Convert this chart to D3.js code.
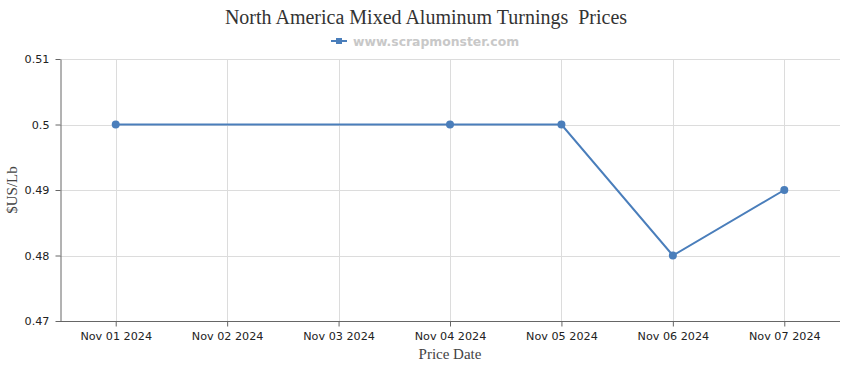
<!DOCTYPE html>
<html>
<head>
<meta charset="utf-8">
<script src="https://cdn.jsdelivr.net/npm/d3@7"></script>
<style>
body{margin:0;background:#fff;}
svg{display:block;}
</style>
</head>
<body>
<svg id="chart" width="850" height="370"></svg>
<script>
const categories = ["Nov 01 2024","Nov 02 2024","Nov 03 2024","Nov 04 2024","Nov 05 2024","Nov 06 2024","Nov 07 2024"];
const values = [0.5, null, null, 0.5, 0.5, 0.48, 0.49];
const yTicks = [0.47, 0.48, 0.49, 0.5, 0.51];
const titleText = "North America Mixed Aluminum Turnings  Prices";
const legendText = "www.scrapmonster.com";
const yTitle = "$US/Lb";
const xTitle = "Price Date";

const color = "#4a7ebb";
const svg = d3.select("#chart");
const m = {left:60, right:10, top:59, bottom:49};
const W = 850, H = 370;
const x = d3.scalePoint().domain(categories).range([m.left, W - m.right]).padding(0.5);
const y = d3.scaleLinear().domain([0.47, 0.51]).range([H - m.bottom, m.top]);

// grid
svg.append("g").selectAll("line.h").data(yTicks).join("line")
  .attr("x1", m.left).attr("x2", W - m.right)
  .attr("y1", d => Math.round(y(d)) + 0.5).attr("y2", d => Math.round(y(d)) + 0.5)
  .attr("stroke", "#dcdcdc").attr("stroke-width", 1);
svg.append("g").selectAll("line.v").data(categories).join("line")
  .attr("x1", d => Math.round(x(d)) + 0.5).attr("x2", d => Math.round(x(d)) + 0.5)
  .attr("y1", m.top).attr("y2", H - m.bottom)
  .attr("stroke", "#dcdcdc").attr("stroke-width", 1);

// axes
const xAxis = svg.append("g").attr("transform", `translate(0,${Math.round(y(0.47)) + 0.5})`)
  .call(d3.axisBottom(x).tickSizeInner(5).tickSizeOuter(0).tickPadding(6));
xAxis.select(".domain").attr("stroke", "#666").attr("d", `M${m.left},0H${W - m.right}`);
xAxis.selectAll(".tick line").attr("stroke", "#666");
xAxis.selectAll("text").attr("font-family", "Verdana, 'DejaVu Sans', sans-serif").attr("font-size", 11.2).attr("fill", "#222");

const yAxis = svg.append("g").attr("transform", `translate(${m.left + 0.5},0)`)
  .call(d3.axisLeft(y).tickValues(yTicks).tickFormat(d => String(+d.toFixed(2))).tickSizeInner(5).tickSizeOuter(0).tickPadding(6));
yAxis.select(".domain").attr("stroke", "#666");
yAxis.selectAll(".tick line").attr("stroke", "#666");
yAxis.selectAll("text").attr("font-family", "Verdana, 'DejaVu Sans', sans-serif").attr("font-size", 11.2).attr("fill", "#222");

// line
const pts = categories.map((c, i) => ({c, v: values[i]})).filter(d => d.v != null);
svg.append("path").datum(pts)
  .attr("fill", "none").attr("stroke", color).attr("stroke-width", 2)
  .attr("d", d3.line().x(d => x(d.c)).y(d => y(d.v)));
svg.append("g").selectAll("circle").data(pts).join("circle")
  .attr("cx", d => x(d.c)).attr("cy", d => y(d.v)).attr("r", 4).attr("fill", color);

// title
svg.append("text").attr("x", 426).attr("y", 24).attr("text-anchor", "middle")
  .attr("font-family", "'Liberation Serif', 'Times New Roman', serif").attr("font-size", 20).attr("fill", "#333")
  .style("white-space", "pre").text(titleText);

// legend
const lg = svg.append("g");
lg.append("line").attr("x1", 331).attr("x2", 347).attr("y1", 41).attr("y2", 41).attr("stroke", color).attr("stroke-width", 2);
lg.append("rect").attr("x", 336).attr("y", 38).attr("width", 6).attr("height", 6).attr("fill", color);
lg.append("text").attr("x", 353).attr("y", 45.5)
  .attr("font-family", "Verdana, 'DejaVu Sans', sans-serif").attr("font-size", 12.4).attr("font-weight", "bold").attr("fill", "#c8c8c8")
  .text(legendText);

// axis titles
svg.append("text").attr("x", 450).attr("y", 359).attr("text-anchor", "middle")
  .attr("font-family", "'Liberation Serif', 'Times New Roman', serif").attr("font-size", 15).attr("fill", "#444")
  .text(xTitle);
svg.append("text").attr("transform", `translate(17,${190}) rotate(-90)`).attr("text-anchor", "middle")
  .attr("font-family", "'Liberation Serif', 'Times New Roman', serif").attr("font-size", 15).attr("fill", "#444")
  .text(yTitle);
</script>
</body>
</html>
